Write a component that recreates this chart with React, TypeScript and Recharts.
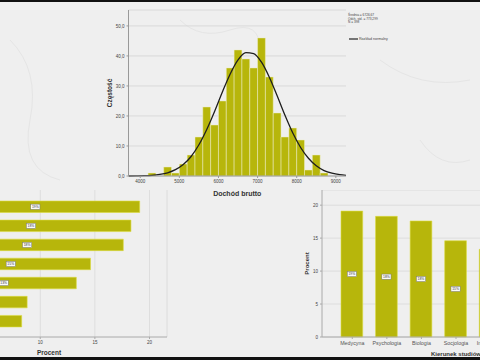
import React from 'react'
import { ComposedChart, BarChart, Bar, Line, XAxis, YAxis, CartesianGrid, LabelList } from 'recharts'

// ── Dane: histogram dochodu ──────────────────────────────────────────────────

const binCenters = [4300, 4500, 4700, 4900, 5100, 5300, 5500, 5700, 5900, 6100, 6300, 6500,
  6700, 6900, 7100, 7300, 7500, 7700, 7900, 8100, 8300, 8500, 8700]
const binCounts = [1, 0, 3, 1, 4, 7, 13, 23, 17, 25, 36, 42, 39, 36, 46, 33, 21, 13, 16, 12, 2, 7, 1]

// krzywa rozkładu normalnego
const curveX = [3700, 3900, 4100, 4300, 4500, 4700, 4900, 5100, 5300, 5500, 5700, 5900, 6100,
  6300, 6500, 6700, 6900, 7100, 7300, 7500, 7700, 7900, 8100, 8300, 8500, 8700, 8900, 9100, 9300]
const curveY = [0.0, 0.04, 0.1, 0.23, 0.52, 1.07, 2.1, 3.8, 6.5, 10.4, 15.5, 21.5, 28.0,
  34.0, 38.7, 41.1, 40.8, 37.9, 32.9, 26.7, 20.2, 14.3, 9.5, 5.9, 3.4, 1.8, 0.93, 0.44, 0.2]

const histXTicks = [4000, 5000, 6000, 7000, 8000, 9000]
const histYTicks = [0, 10, 20, 30, 40, 50]

const statLines = ['Średnia = 6726,67', 'Odch. std. = 773,299', 'N = 398']

// ── Dane: kierunek studiów ───────────────────────────────────────────────────

const majors = ['Medycyna', 'Psychologia', 'Biologia', 'Socjologia', 'Informatyka', 'Ekonomia', 'Prawo']
const percents = [19.1, 18.3, 17.6, 14.6, 13.3, 8.8, 8.3]
const percentLabels = ['19%', '18%', '18%', '15%', '13%', '9%', '8%']
const pctTicks = [0, 5, 10, 15, 20]
const pctTicksVisible = [10, 15, 20] // lewa część wykresu poziomego jest poza kadrem

const histData = curveX.map(x => {
  const i = binCenters.indexOf(x)
  return { x, count: i >= 0 ? binCounts[i] : undefined, curve: curveY[curveX.indexOf(x)] }
})

const majorData = majors.map((m, i) => ({ major: m, pct: percents[i], label: percentLabels[i] }))

const BAR = '#b7b60b'
const FONT = '"Liberation Sans", Arial, sans-serif'

function BoxLabel(props: any) {
  const { x, y, width, height, value } = props
  const cx = x + width / 2
  const cy = y + height / 2
  return (
    <g>
      <rect x={cx - 4.6} y={cy - 2.6} width={9.2} height={5.2} fill="#fafafa" stroke="#777" strokeWidth={0.5} />
      <text x={cx} y={cy + 1.2} fontSize={3.4} textAnchor="middle" fill="#333" fontFamily={FONT}>{value}</text>
    </g>
  )
}

const tickStyle = { fontSize: 4.5, fill: '#444', fontFamily: FONT }
const titleStyle = { fontSize: 7, fontWeight: 700, fill: '#333', fontFamily: FONT, textAnchor: 'middle' as const }

export default function App() {
  return (
    <div style={{ position: 'absolute', left: 0, top: 0, width: 480, height: 360, overflow: 'hidden', background: '#efefef', fontFamily: FONT }}>
      <svg width={480} height={360} style={{ position: 'absolute', left: 0, top: 0 }}>
        <path d="M10 40 Q40 70 30 120 T60 180" stroke="#e5e5e5" fill="none" strokeWidth={1} />
        <path d="M380 60 Q420 90 470 80" stroke="#e5e5e5" fill="none" strokeWidth={1} />
        <path d="M180 20 Q200 40 230 30 T260 50" stroke="#e5e5e5" fill="none" strokeWidth={1} />
        <path d="M420 140 Q440 170 470 160" stroke="#e5e5e5" fill="none" strokeWidth={1} />
      </svg>

      {/* histogram */}
      <div style={{ position: 'absolute', left: 100, top: 0 }}>
        <ComposedChart width={250} height={200} data={histData} margin={{ top: 10, right: 4, left: 0, bottom: 0 }}>
          <CartesianGrid vertical={false} stroke="#d4d4d4" strokeWidth={0.8} />
          <XAxis type="number" dataKey="x" domain={[3700, 9260]} allowDataOverflow ticks={histXTicks}
            tick={tickStyle} tickSize={2} stroke="#999" height={24}
            label={{ value: 'Dochód brutto', position: 'insideBottom', offset: 4, style: titleStyle }} />
          <YAxis type="number" domain={[0, 55.3]} ticks={histYTicks} tick={tickStyle} tickSize={2} stroke="#999" width={28.5}
            tickFormatter={(v: number) => v.toFixed(1).replace('.', ',')}
            label={{ value: 'Częstość', angle: -90, position: 'insideLeft', offset: 10, style: { ...titleStyle, fontSize: 6.5 } }} />
          <Bar dataKey="count" fill={BAR} stroke="#efeec4" strokeWidth={0.5} barSize={7.8} isAnimationActive={false} />
          <Line dataKey="curve" type="monotone" stroke="#1e1e1e" strokeWidth={1.3} dot={false} connectNulls isAnimationActive={false} />
        </ComposedChart>
      </div>

      <svg width={80} height={50} style={{ position: 'absolute', left: 345, top: 8 }}>
        {statLines.map((s, i) => (
          <text key={s} x={3} y={8 + i * 3.6} fontSize={3.2} fill="#444" fontFamily={FONT}>{s}</text>
        ))}
        <line x1={4} x2={13} y1={31} y2={31} stroke="#222" strokeWidth={1.2} />
        <text x={14} y={32.2} fontSize={3.6} fill="#444" fontFamily={FONT}>Rozkład normalny</text>
      </svg>

      {/* słupki poziome */}
      <div style={{ position: 'absolute', left: -169.3, top: 190 }}>
        <BarChart layout="vertical" width={341} height={167} data={majorData} margin={{ top: 0, right: 5, left: 10, bottom: 0 }}>
          <CartesianGrid horizontal={false} stroke="#d8d8d8" strokeWidth={0.8} />
          <XAxis type="number" domain={[0, 21.6]} ticks={pctTicksVisible} allowDataOverflow tick={tickStyle} tickSize={2} stroke="#aaa" height={20}
            label={{ value: 'Procent', position: 'insideBottom', offset: 2, style: { ...titleStyle, fontSize: 6.5 } }} />
          <YAxis type="category" dataKey="major" width={90} padding={{ top: 7, bottom: 6.5 }} tick={false} stroke="#aaa" />
          <Bar dataKey="pct" fill={BAR} stroke="#dcdc3c" strokeWidth={0.6} barSize={11.5} isAnimationActive={false}>
            <LabelList dataKey="label" content={BoxLabel} />
          </Bar>
        </BarChart>
      </div>

      {/* słupki pionowe */}
      <div style={{ position: 'absolute', left: 292, top: 190 }}>
        <BarChart width={298} height={169} data={majorData} margin={{ top: 0, right: 0, left: 0, bottom: 0 }}>
          <CartesianGrid vertical={false} stroke="#d8d8d8" strokeWidth={0.8} />
          <XAxis type="category" dataKey="major" padding={{ left: 13, right: 13 }} tick={{ ...tickStyle, fontSize: 5.3, fill: '#555' }}
            tickSize={2} stroke="#aaa" height={22} interval={0}
            label={{ value: 'Kierunek studiów', position: 'insideBottom', offset: 3, style: { ...titleStyle, fontSize: 6 } }} />
          <YAxis type="number" domain={[0, 22.3]} ticks={pctTicks} tick={tickStyle} tickSize={2} stroke="#aaa" width={30}
            label={{ value: 'Procent', angle: -90, position: 'insideLeft', offset: 15, style: { ...titleStyle, fontSize: 6 } }} />
          <Bar dataKey="pct" fill={BAR} stroke="#dcdc3c" strokeWidth={0.6} barSize={21.7} isAnimationActive={false}>
            <LabelList dataKey="label" content={BoxLabel} />
          </Bar>
        </BarChart>
      </div>

      <div style={{ position: 'absolute', left: 0, top: 0, width: 480, height: 2, background: '#111' }} />
      <div style={{ position: 'absolute', left: 0, top: 357, width: 480, height: 3, background: '#111' }} />
    </div>
  )
}
